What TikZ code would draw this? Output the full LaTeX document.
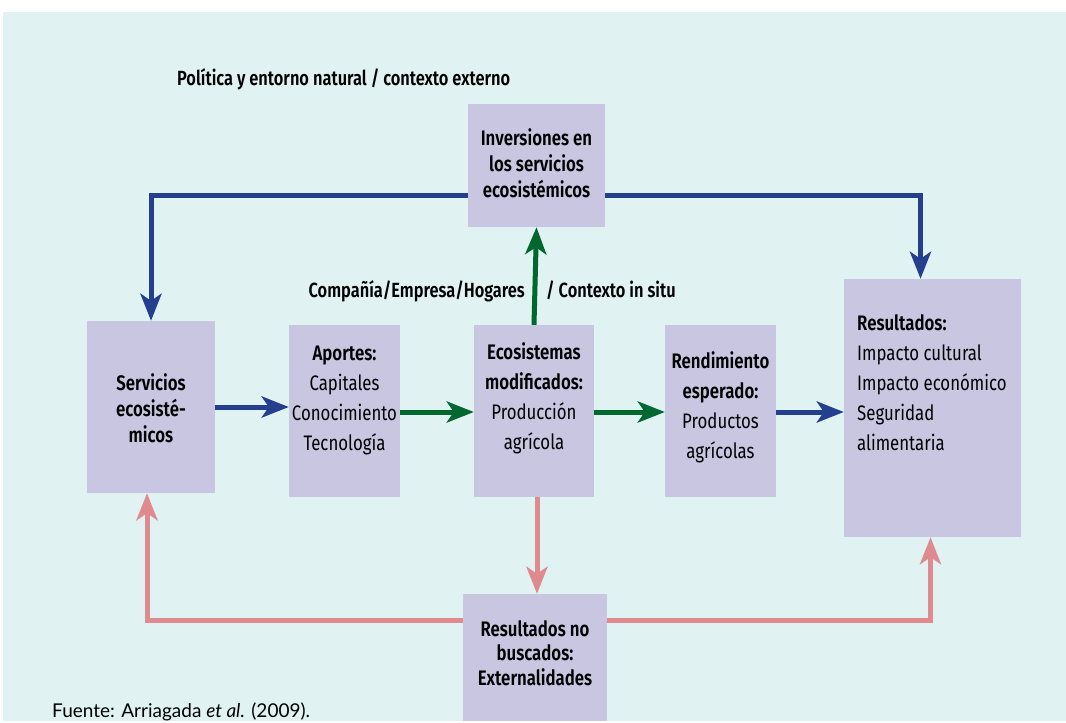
\documentclass[tikz,border=0pt]{standalone}
\usepackage{fontspec}
\setmainfont{Fira Sans}[FakeStretch=0.8, BoldFont={Fira Sans SemiBold}]
\newfontfamily\fuentefont{Lato}
\usetikzlibrary{arrows.meta,positioning,calc}
\definecolor{bgcyan}{HTML}{E0F2F2}
\definecolor{boxlila}{HTML}{C8C6E0}
\definecolor{arrblue}{HTML}{233F8D}
\definecolor{arrgreen}{HTML}{00672F}
\definecolor{arrpink}{HTML}{DF8A8E}

\begin{document}
\begin{tikzpicture}[x=1pt, y=-1pt,
  box/.style={fill=boxlila, inner sep=0pt},
  txt/.style={align=center, inner sep=0pt, font=\fontsize{21}{30}\selectfont},
  tight/.style={font=\fontsize{21}{26}\selectfont},
  note/.style={inner sep=0pt, font=\fontsize{20.5}{24}\selectfont\bfseries},
  flow/.style={line width=5pt, -{Stealth[length=27pt, width=21pt, inset=7pt]}},
  bluearr/.style={flow, draw=arrblue},
  greenarr/.style={flow, draw=arrgreen},
  pinkarr/.style={flow, draw=arrpink}]
  \useasboundingbox (0,0) rectangle (1066,723);
  \fill[bgcyan] (3,12) rectangle (1066,721);

  % boxes
  \node (inv) [box, minimum width=137pt, minimum height=123pt] at (536.5,165.5) {};
  \node (serv) [box, minimum width=128pt, minimum height=172pt] at (151,407) {};
  \node (apor) [box, minimum width=111pt, minimum height=172pt] at (344.5,411) {};
  \node (ecos) [box, minimum width=120pt, minimum height=172pt] at (534,411) {};
  \node (rend) [box, minimum width=111pt, minimum height=172pt] at (720.5,411) {};
  \node (res) [box, minimum width=177pt, minimum height=258pt] at (932.5,408) {};
  \node (nobus) [box, minimum width=144pt, minimum height=127pt] at (535,657.5) {};

  % texts in boxes
  \node (inv-txt) [txt, tight] at (536.5,163) {\textbf{Inversiones en}\\\textbf{los servicios}\\\textbf{ecosistémicos}};
  \node (serv-txt) [txt, tight] at (151,408) {\textbf{Servicios}\\\textbf{ecosisté-}\\\textbf{micos}};
  \node (apor-txt) [txt] at (344.5,400) {\textbf{Aportes:}\\Capitales\\Conocimiento\\Tecnología};
  \node (ecos-txt) [txt] at (534,398) {\textbf{Ecosistemas}\\\textbf{modificados:}\\Producción\\agrícola};
  \node (rend-txt) [txt] at (720.5,407) {\textbf{Rendimiento}\\\textbf{esperado:}\\Productos\\agrícolas};
  \node (res-txt) [txt, align=left, anchor=west] at (857,383) {\textbf{Resultados:}\\Impacto cultural\\Impacto económico\\Seguridad\\alimentaria};
  \node (nobus-txt) [txt, font=\fontsize{21}{24.5}\selectfont] at (535,653) {\textbf{Resultados no}\\\textbf{buscados:}\\\textbf{Externalidades}};

  % free texts
  \node (ctx-ext) [note, anchor=base west] at (177,85) {Política y entorno natural / contexto externo};
  \node (ctx-emp) [note, anchor=base east] at (525,297) {Compañía/Empresa/Hogares};
  \node (ctx-situ) [note, anchor=base west] at (546,297) {/ Contexto in situ};
  \node (fuente) [inner sep=0pt, anchor=base west, font=\fontsize{19}{22}\fuentefont] at (52,717) {Fuente: Arriagada \textit{et al.} (2009).};

  % connectors
  \draw [bluearr] (inv.west |- 0,195) -| (serv.north);
  \draw [bluearr] (inv.east |- 0,195) -| ([xshift=-12pt]res.north);
  \draw [bluearr] (serv.east |- 0,407) -- (apor.west |- 0,407);
  \draw [greenarr] (apor.east |- 0,412) -- (ecos.west |- 0,412);
  \draw [greenarr] (ecos.east |- 0,412) -- (rend.west |- 0,412);
  \draw [bluearr] (rend.east |- 0,412) -- (res.west |- 0,412);
  \draw [greenarr] (ecos.north) -- (inv.south);
  \draw [pinkarr] ([xshift=3pt]ecos.south) -- ([xshift=2pt]nobus.north);
  \draw [pinkarr] (nobus.west |- 0,620) -| ([xshift=-4pt]serv.south);
  \draw [pinkarr] (nobus.east |- 0,620) -| ([xshift=-2pt]res.south);
\end{tikzpicture}
\end{document}
